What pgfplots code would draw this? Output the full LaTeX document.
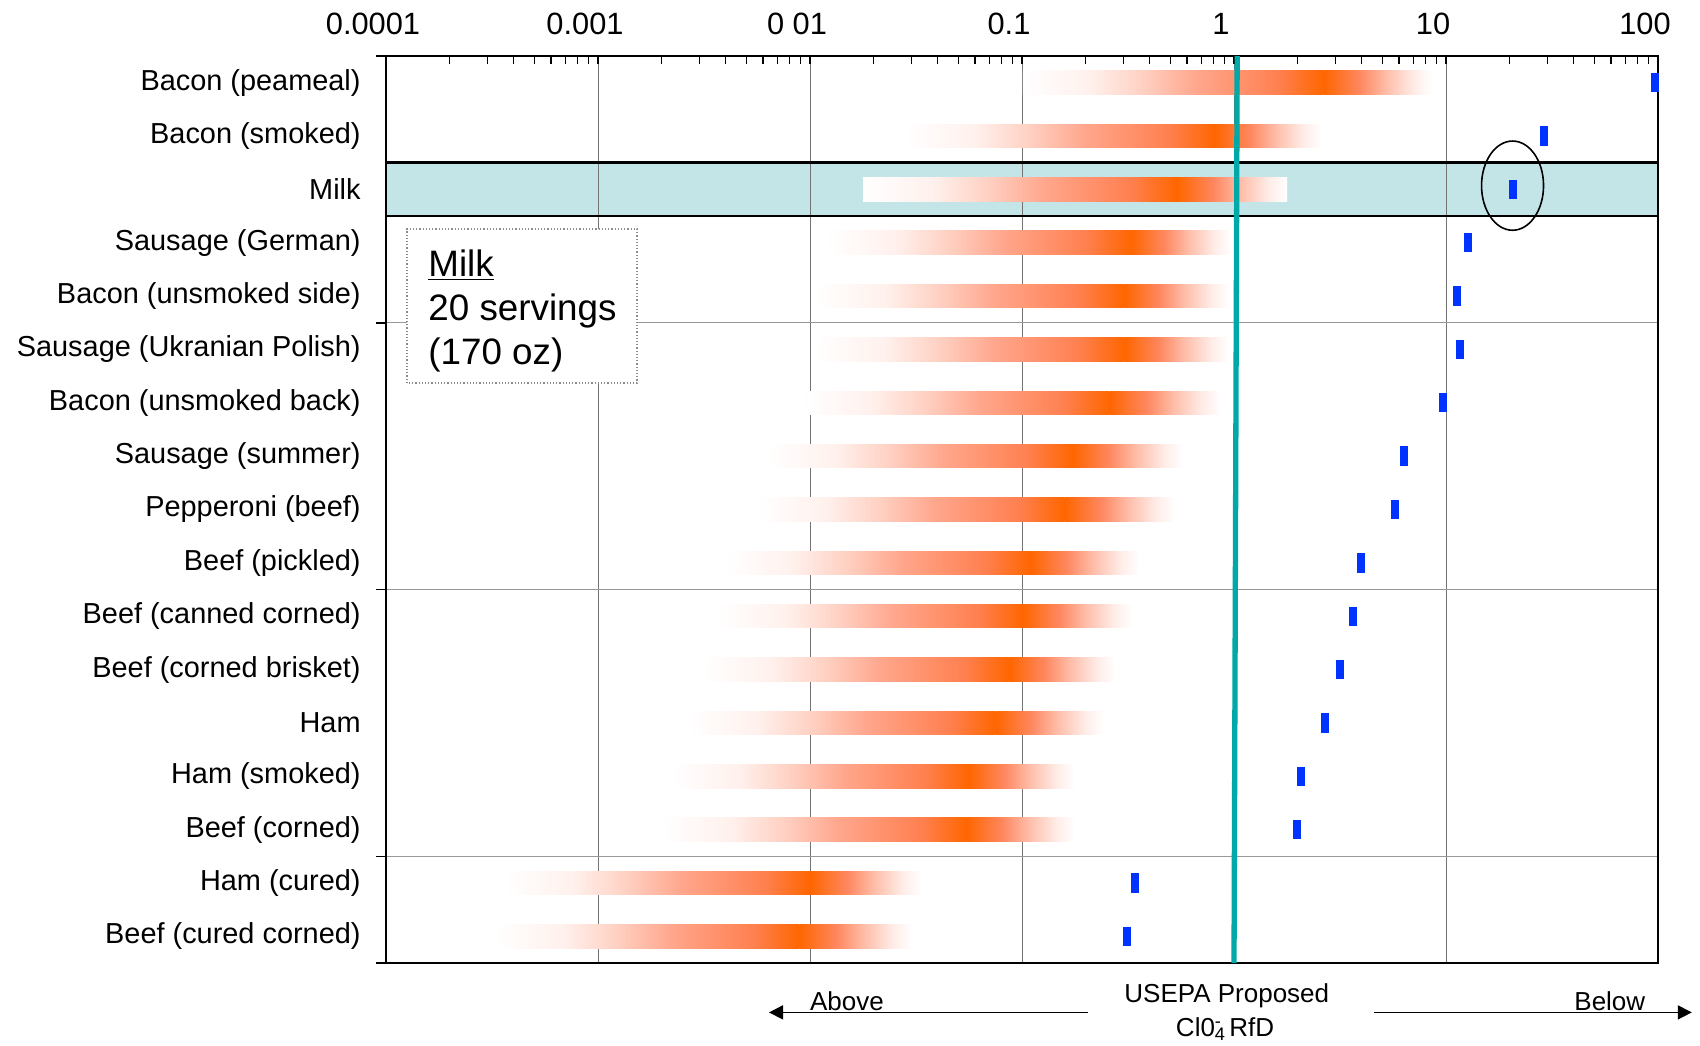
\documentclass[border=0pt]{standalone}
\usepackage{pgfplots}
\pgfplotsset{compat=1.18}
\usepackage{pgfplotstable}
\usepackage{fontspec}
\setmainfont{Liberation Sans}
\usetikzlibrary{arrows.meta}

\definecolor{pk}{RGB}{255,102,0}
\definecolor{fa1}{RGB}{255,241,237}
\definecolor{fa2}{RGB}{255,208,194}
\definecolor{fa3}{RGB}{255,166,140}
\definecolor{fa4}{RGB}{255,128,80}
\definecolor{fb1}{RGB}{255,135,95}
\definecolor{fb2}{RGB}{255,190,170}
\definecolor{fb3}{RGB}{255,236,231}
\definecolor{markblue}{RGB}{0,51,255}
\definecolor{tealc}{RGB}{0,168,168}
\definecolor{hl}{RGB}{196,229,232}

\pgfdeclarehorizontalshading{fadein}{100bp}{color(0bp)=(white); color(25bp)=(white); color(36bp)=(fa1); color(45bp)=(fa2); color(54bp)=(fa3); color(67.5bp)=(fa4); color(75bp)=(pk); color(100bp)=(pk)}
\pgfdeclarehorizontalshading{fadeout}{100bp}{color(0bp)=(pk); color(25bp)=(pk); color(41.5bp)=(fb1); color(54bp)=(fb2); color(66.5bp)=(fb3); color(75bp)=(white); color(100bp)=(white)}

% row, start of range, peak, end of range, blue marker
\pgfplotstableread{
row lo peak hi rfd
1 0.101 2.65 8.6 97
2 0.0284 0.813 2.57 29.0
3 0.0178 0.538 1.78 20.6
4 0.0121 0.327 0.968 12.7
5 0.0107 0.305 0.944 11.3
6 0.0107 0.305 0.944 11.65
7 0.00927 0.259 0.865 9.64
8 0.00634 0.174 0.573 6.34
9 0.00562 0.159 0.524 5.73
10 0.00396 0.110 0.356 3.98
11 0.00368 0.101 0.33 3.65
12 0.00315 0.0875 0.275 3.16
13 0.00269 0.075 0.241 2.69
14 0.00225 0.0562 0.177 2.08
15 0.00203 0.0548 0.177 1.99
16 0.000364 0.0100 0.0335 0.34
17 0.000329 0.00891 0.0302 0.312
}\foods

\newcommand\gradbar[4]{%
  \pgfmathsetmacro\ya{#1-0.22}%
  \pgfmathsetmacro\yb{#1+0.22}%
  \edef\tmp{%
    \noexpand\addplot[draw=none, shade, shading=fadein, forget plot] coordinates {(#2,\ya) (#3,\ya) (#3,\yb) (#2,\yb)};%
    \noexpand\addplot[draw=none, shade, shading=fadeout, forget plot] coordinates {(#3,\ya) (#4,\ya) (#4,\yb) (#3,\yb)};%
  }\tmp}

\begin{document}
\begin{tikzpicture}
\begin{axis}[
  set layers,
  clip mode=individual,
  scale only axis, width=636pt, height=453.5pt,
  xmode=log, xmin=1e-4, xmax=100,
  ymin=0.5, ymax=17.5, y dir=reverse,
  axis line style={line width=1.3pt},
  xtick={1e-4,1e-3,1e-2,1e-1,1,10,100},
  xticklabels={0.0001,0.001,0 01,0.1,1,10,100},
  minor xtick={2e-4,3e-4,4e-4,5e-4,6e-4,7e-4,8e-4,9e-4,
    2e-3,3e-3,4e-3,5e-3,6e-3,7e-3,8e-3,9e-3,
    0.02,0.03,0.04,0.05,0.06,0.07,0.08,0.09,
    0.2,0.3,0.4,0.5,0.6,0.7,0.8,0.9,
    2,3,4,5,6,7,8,9,20,30,40,50,60,70,80,90},
  xtick pos=right, xticklabel pos=right,
  tick align=inside,
  major tick length=4pt, minor tick length=4pt,
  every tick/.style={black, line width=0.6pt},
  xmajorgrids, major grid style={black!55, line width=0.5pt},
  ytick={1,...,17},
  yticklabels={Bacon (peameal),Bacon (smoked),Milk,Sausage (German),Bacon (unsmoked side),Sausage (Ukranian Polish),Bacon (unsmoked back),Sausage (summer),Pepperoni (beef),Beef (pickled),Beef (canned corned),Beef (corned brisket),Ham,Ham (smoked),Beef (corned),Ham (cured),Beef (cured corned)},
  ytick style={draw=none},
  minor ytick={5.5,10.5,15.5}, yminorgrids,
  minor grid style={black!40, line width=0.7pt},
  xticklabel style={font=\fontsize{15.4}{18}\selectfont, anchor=base, inner sep=0pt, yshift=10.85pt, xshift=-6.5pt},
  yticklabel style={font=\fontsize{14.45}{17}\selectfont, anchor=east, inner xsep=0pt, xshift=-12.5pt},
]
\begin{pgfonlayer}{axis background}
\fill[hl] (axis cs:1e-4,2.5) rectangle (axis cs:100,3.5);
\end{pgfonlayer}
\draw[line width=1.3pt] (axis cs:1e-4,2.5) rectangle (axis cs:100,3.5);

\pgfplotsinvokeforeach{0,...,16}{%
  \pgfplotstablegetelem{#1}{row}\of\foods \let\bRow\pgfplotsretval
  \pgfplotstablegetelem{#1}{lo}\of\foods \let\bLo\pgfplotsretval
  \pgfplotstablegetelem{#1}{peak}\of\foods \let\bPk\pgfplotsretval
  \pgfplotstablegetelem{#1}{hi}\of\foods \let\bHi\pgfplotsretval
  \gradbar{\bRow}{\bLo}{\bPk}{\bHi}
}

\addplot[tealc, line width=2.65pt, forget plot] coordinates {(1.035,0.5) (1.0,17.5)};
\addplot[only marks, mark=|, mark size=4.85pt, line width=4pt, markblue] table[x=rfd,y=row]{\foods};

\draw[line width=0.8pt] (axis cs:20.6,2.93) ellipse [x radius=15.5pt, y radius=22.3pt];
\pgfplotsinvokeforeach{0.5,5.5,10.5,15.5,17.5}{\draw[line width=0.8pt] (axis cs:1e-4,#1) -- ++(-5pt,0pt);}
\end{axis}

\draw[densely dotted, black!45, line width=0.6pt, fill=white] (10.5pt,290pt) rectangle (125.5pt,367pt);
\node[anchor=base west, inner sep=0pt, font=\fontsize{18.4}{22}\selectfont] at (21pt,343pt) {\underline{Milk}};
\node[anchor=base west, inner sep=0pt, font=\fontsize{18.4}{22}\selectfont] at (21pt,321pt) {20 servings};
\node[anchor=base west, inner sep=0pt, font=\fontsize{18.4}{22}\selectfont] at (21pt,299pt) {(170 oz)};

\draw[line width=0.8pt, -{Triangle[length=7pt,width=7pt]}] (350.9pt,-24.7pt) -- (191.5pt,-24.7pt);
\draw[line width=0.8pt, -{Triangle[length=7pt,width=7pt]}] (494pt,-24.7pt) -- (652.9pt,-24.7pt);
\node[anchor=base west, inner sep=0pt, font=\fontsize{13}{15}\selectfont] at (211.8pt,-23.5pt) {Above};
\node[anchor=base west, inner sep=0pt, font=\fontsize{13}{15}\selectfont] at (594pt,-23.5pt) {Below};
\node[anchor=base, inner sep=0pt, font=\fontsize{13}{15}\selectfont] at (420.4pt,-19.5pt) {USEPA Proposed};
\node[anchor=base, inner sep=0pt, font=\fontsize{13}{15}\selectfont] at (419.5pt,-36.5pt) {Cl0\rlap{\textsubscript{4}}\textsuperscript{-} RfD};
\path (-193pt,-41pt) rectangle (657pt,481.5pt);
\end{tikzpicture}
\end{document}
